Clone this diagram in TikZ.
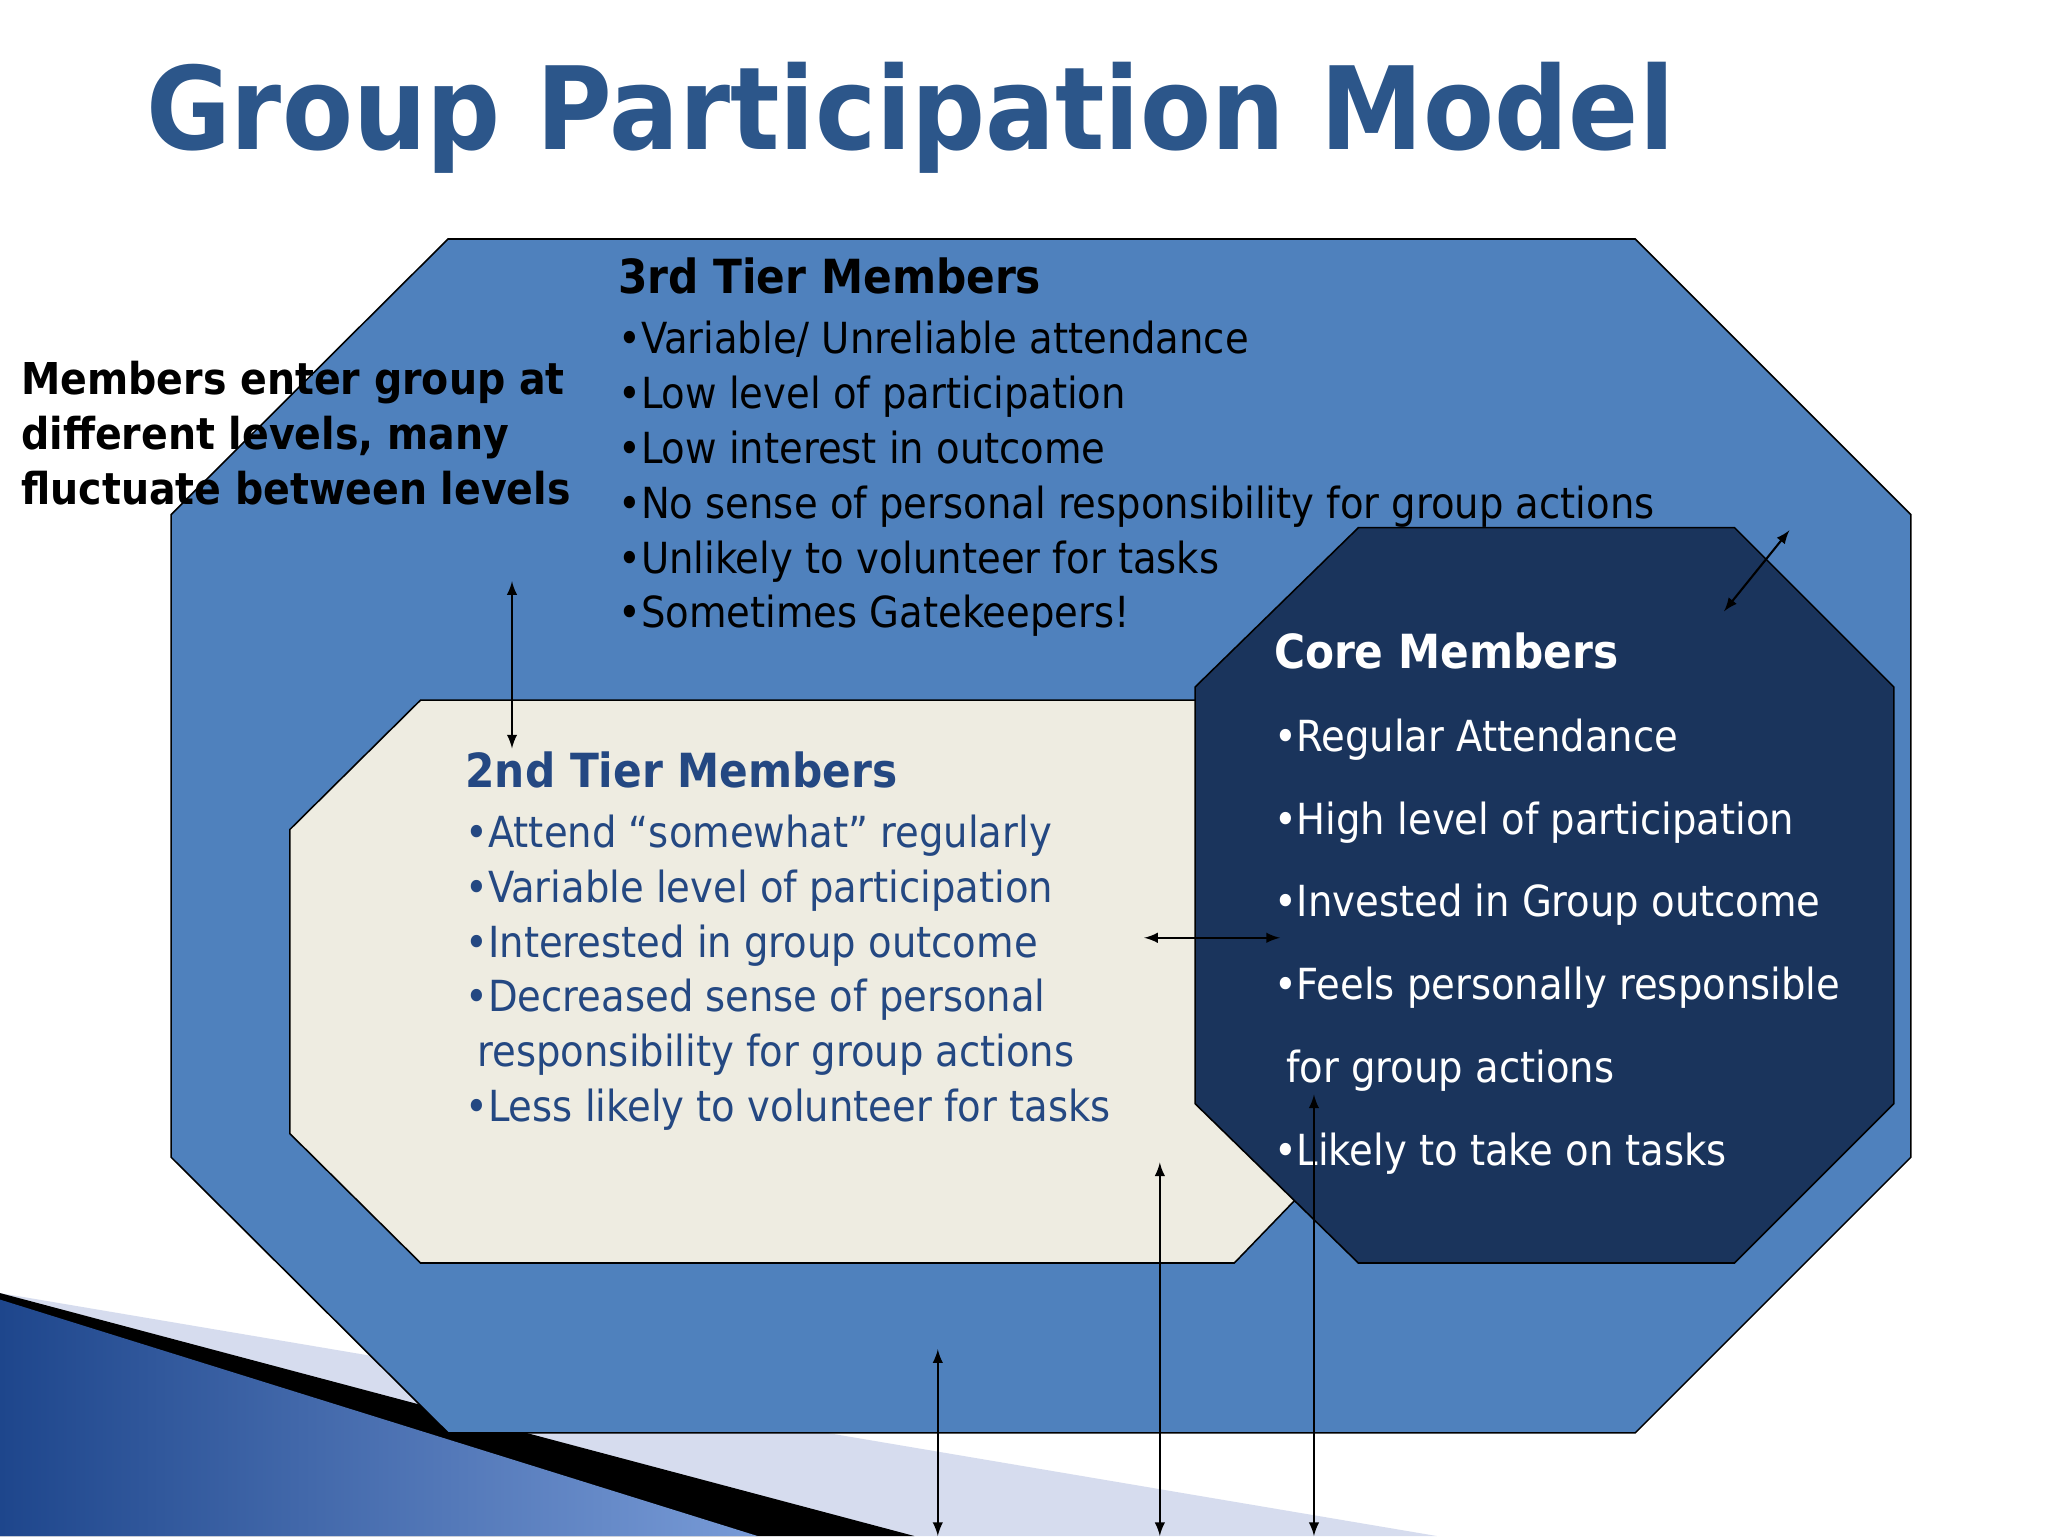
\documentclass[tikz,border=0pt]{standalone}
\usepackage{fontspec}
\setmainfont{DejaVu Sans Condensed}
\newfontfamily\titlefont{DejaVu Sans Condensed}
\definecolor{bigblue}{RGB}{79,129,189}
\definecolor{cream}{RGB}{238,236,225}
\definecolor{coreblue}{RGB}{26,52,92}
\definecolor{titleblue}{RGB}{44,86,138}
\definecolor{tiertwo}{RGB}{36,72,130}
\definecolor{band}{RGB}{214,220,238}
\definecolor{swdark}{RGB}{30,70,140}
\definecolor{swlight}{RGB}{120,155,215}
\tikzset{polyline/.style={draw=black,line width=0.6pt},
 dbl/.style={<->,>=latex,line width=0.8pt},
 body/.style={anchor=north west,align=left,inner sep=0pt,font=\fontsize{16.4}{21}\selectfont}}
\begin{document}
\begin{tikzpicture}[x=0.5pt,y=-0.5pt]
\fill[white] (0,0) rectangle (1568,1176);
% bottom-left decoration
\fill[band] (0,990) -- (1100,1176) -- (0,1176) -- cycle;
\fill[black] (0,990) -- (700,1176) -- (0,1176) -- cycle;
\shade[left color=swdark, right color=swlight] (0,995) -- (580,1176) -- (0,1176) -- cycle;
% title
\node[font=\titlefont\bfseries\fontsize{44}{50}\selectfont,text=titleblue] (title) at (697,90) {Group Participation Model};
% shapes
\filldraw[polyline,fill=bigblue] (343,183) -- (1252,183) -- (1463,394) -- (1463,886) -- (1252,1097) -- (343,1097) -- (131,886) -- (131,394) -- cycle;
\filldraw[polyline,fill=cream] (322,536) -- (1000,536) -- (1000,910) -- (945,967) -- (322,967) -- (222,868) -- (222,635) -- cycle;
\filldraw[polyline,fill=coreblue] (1040,404) -- (1328,404) -- (1450,526) -- (1450,845) -- (1328,967) -- (1040,967) -- (915,845) -- (915,526) -- cycle;
% texts
\node[body] (t3) at (473,197) {{\fontsize{18}{21}\selectfont\bfseries 3rd Tier Members}\\[2pt]
•Variable/ Unreliable attendance\\
•Low level of participation\\
•Low interest in outcome\\
•No sense of personal responsibility for group actions\\
•Unlikely to volunteer for tasks\\
•Sometimes Gatekeepers!};
\node[body,text=tiertwo] (t2) at (356,575) {{\fontsize{18}{21}\selectfont\bfseries 2nd Tier Members}\\[2pt]
•Attend “somewhat” regularly\\
•Variable level of participation\\
•Interested in group outcome\\
•Decreased sense of personal\\
\ responsibility for group actions\\
•Less likely to volunteer for tasks};
\node[body,text=white,font=\fontsize{16.4}{31.7}\selectfont] (tc) at (975,484) {{\fontsize{18}{21}\selectfont\bfseries Core Members}\\
•Regular Attendance\\
•High level of participation\\
•Invested in Group outcome\\
•Feels personally responsible\\
\ for group actions\\
•Likely to take on tasks};
\node[body,font=\bfseries\fontsize{16.8}{21}\selectfont] (left) at (16,276) {Members enter group at\\ different levels, many\\ fluctuate between levels};
% arrows
\coordinate (a1) at (392,445); \coordinate (a2) at (392,573);
\coordinate (b1) at (1370,406); \coordinate (b2) at (1320,468);
\coordinate (c1) at (876,718); \coordinate (c2) at (980,718);
\coordinate (d1) at (718,1033); \coordinate (d2) at (718,1176);
\coordinate (e1) at (888,890); \coordinate (e2) at (888,1176);
\coordinate (f1) at (1006,838); \coordinate (f2) at (1006,1176);
\foreach \p/\q in {a1/a2,b1/b2,c1/c2,d1/d2,e1/e2,f1/f2} \draw[dbl] (\p) -- (\q);
\end{tikzpicture}
\end{document}
